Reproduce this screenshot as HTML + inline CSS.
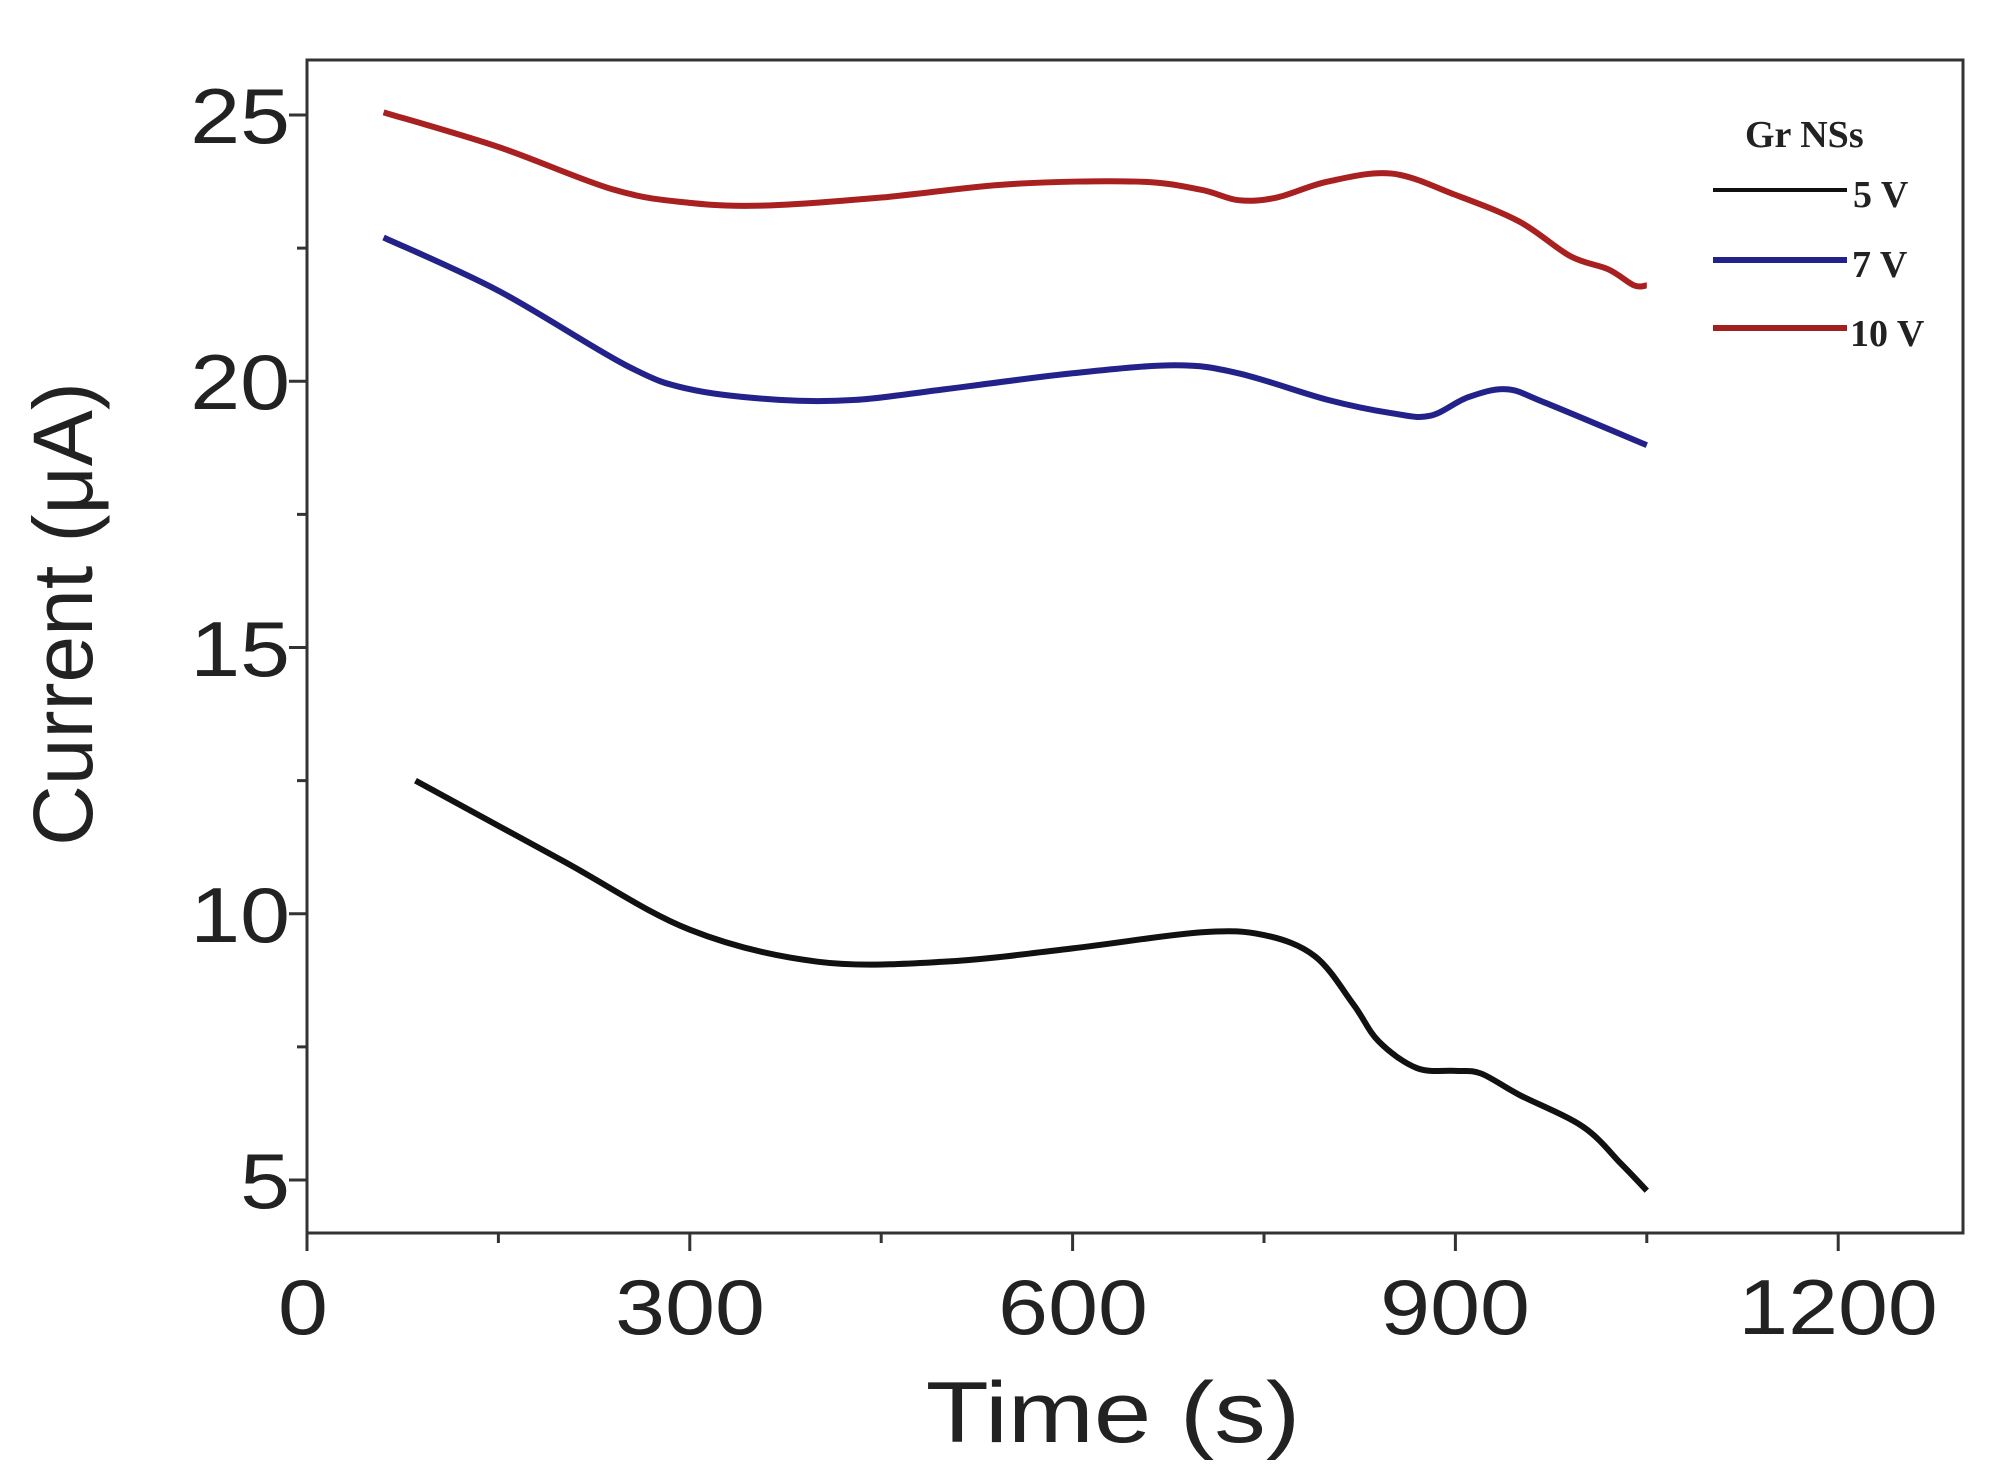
<!DOCTYPE html>
<html><head><meta charset="utf-8"><style>
html,body{margin:0;padding:0;background:#fff;}
svg{display:block;}
text{font-family:"Liberation Sans",sans-serif;fill:#222;}
.lg{font-family:"Liberation Serif",serif;font-weight:bold;font-size:38px;fill:#222;}
</style></head><body>
<svg id="s" width="1997" height="1484" viewBox="0 0 1997 1484" xmlns="http://www.w3.org/2000/svg">
<rect x="307" y="60" width="1656" height="1173" fill="none" stroke="#333" stroke-width="3"/>
<g id="ticks" stroke="#333" stroke-width="3"></g>
<g font-size="78" text-anchor="middle">
<text transform="translate(303,1334) scale(1.15,1)">0</text>
<text transform="translate(690,1334) scale(1.15,1)">300</text>
<text transform="translate(1073,1334) scale(1.15,1)">600</text>
<text transform="translate(1455,1334) scale(1.15,1)">900</text>
<text transform="translate(1838,1334) scale(1.15,1)">1200</text>
</g>
<g font-size="78" text-anchor="end">
<text transform="translate(290,143) scale(1.15,1)">25</text>
<text transform="translate(290,409) scale(1.15,1)">20</text>
<text transform="translate(290,676) scale(1.15,1)">15</text>
<text transform="translate(290,942) scale(1.15,1)">10</text>
<text transform="translate(290,1208) scale(1.15,1)">5</text>
</g>
<text transform="translate(1113,1442) scale(1.2,1)" font-size="86" text-anchor="middle">Time (s)</text>
<text transform="translate(92,614) rotate(-90)" font-size="84" text-anchor="middle">Current (μA)</text>
<text class="lg" x="1745" y="147">Gr NSs</text>
<text class="lg" x="1853" y="207">5 V</text>
<text class="lg" x="1852" y="277">7 V</text>
<text class="lg" x="1850" y="346">10 V</text>
<line x1="1713" y1="190" x2="1847" y2="190" stroke="#111" stroke-width="4"/>
<line x1="1713" y1="260" x2="1847" y2="260" stroke="#22228a" stroke-width="6"/>
<line x1="1713" y1="328" x2="1847" y2="328" stroke="#a02020" stroke-width="6"/>
<g id="curves" fill="none" stroke-width="6" stroke-linejoin="round"></g>
</svg>
<script>
var X=function(t){return 307+1.276*t;},Y=function(v){return 115+(25-v)*53.25;};
var tk=document.getElementById('ticks'),h='';
for(var t=0;t<=1300;t+=150){var x=X(t),L=(t%300==0)?18:10;h+='<line x1="'+x+'" y1="1233" x2="'+x+'" y2="'+(1233+L)+'"/>';}
for(var v=5;v<=25;v+=2.5){var y=Y(v),L=(v%5==0)?18:10;h+='<line x1="307" y1="'+y+'" x2="'+(307-L)+'" y2="'+y+'"/>';}
tk.innerHTML=h;
function path(d){var p=d.map(function(a){return [X(a[0]),Y(a[1])];});var s='M'+p[0][0]+','+p[0][1];
for(var i=0;i<p.length-1;i++){var p0=p[i-1]||p[i],p1=p[i],p2=p[i+1],p3=p[i+2]||p2;
s+=' C'+(p1[0]+(p2[0]-p0[0])/6)+','+(p1[1]+(p2[1]-p0[1])/6)+' '+(p2[0]-(p3[0]-p1[0])/6)+','+(p2[1]-(p3[1]-p1[1])/6)+' '+p2[0]+','+p2[1];}return s;}
var red=[[60,25.05],[150,24.4],[240,23.6],[300,23.35],[360,23.3],[450,23.45],[550,23.7],[650,23.75],[700,23.6],[730,23.4],[760,23.45],[800,23.75],[850,23.9],[900,23.5],[950,23.0],[990,22.35],[1020,22.1],[1040,21.8],[1050,21.8]];
var blue=[[60,22.7],[150,21.7],[250,20.3],[300,19.85],[370,19.65],[430,19.65],[500,19.85],[600,20.15],[680,20.3],[730,20.15],[800,19.65],[850,19.4],[880,19.35],[910,19.7],[940,19.85],[970,19.6],[1050,18.8]];
var blk=[[85,12.5],[200,11],[300,9.7],[400,9.1],[500,9.1],[600,9.35],[700,9.65],[750,9.6],[790,9.2],[820,8.3],[840,7.6],[870,7.1],[900,7.05],[920,7.0],[950,6.6],[1000,6.0],[1030,5.3],[1050,4.8]];
document.getElementById('curves').innerHTML='<path d="'+path(red)+'" stroke="#a82020"/><path d="'+path(blue)+'" stroke="#22228a"/><path d="'+path(blk)+'" stroke="#111"/>';
</script>
</body></html>
